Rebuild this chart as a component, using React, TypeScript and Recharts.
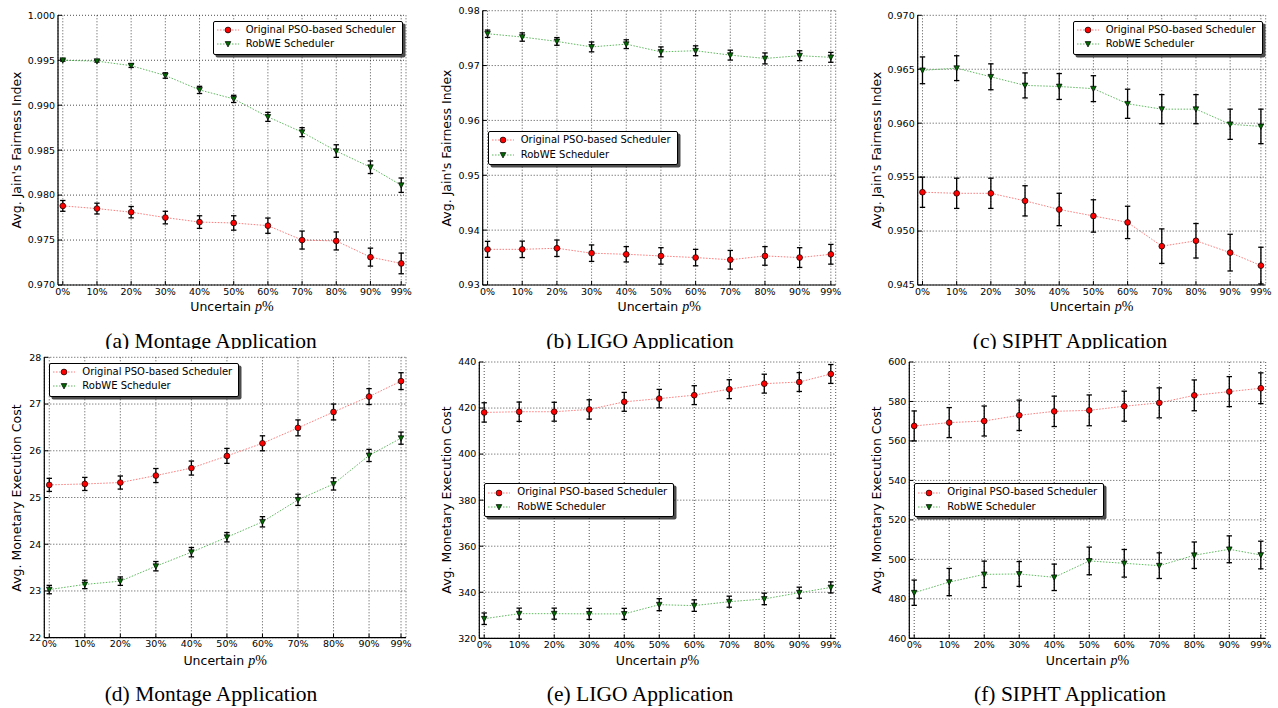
import React from 'react';
import { LineChart, Line, XAxis, YAxis, CartesianGrid, ErrorBar, Legend } from 'recharts';

// ---------- data ----------
const uncertainty = [0, 10, 20, 30, 40, 50, 60, 70, 80, 90, 99];
const seriesNames = ['Original PSO-based Scheduler', 'RobWE Scheduler'];

// (a) Montage – fairness
const montageFairPso = [0.9788, 0.9785, 0.9781, 0.9775, 0.977, 0.9769, 0.9766, 0.975, 0.9749, 0.9731, 0.9724];
const montageFairPsoErr = [0.0006, 0.0006, 0.00063, 0.0007, 0.0007, 0.0008, 0.00085, 0.001, 0.001, 0.001, 0.00115];
const montageFairRob = [0.995, 0.9949, 0.9944, 0.9933, 0.9917, 0.9907, 0.9887, 0.987, 0.9849, 0.9831, 0.9811];
const montageFairRobErr = [0.0001, 0.0001, 0.0002, 0.0003, 0.0004, 0.0004, 0.0005, 0.0005, 0.0007, 0.0007, 0.0008];

// (b) LIGO – fairness
const ligoFairPso = [0.9365, 0.9365, 0.9367, 0.9358, 0.9356, 0.9353, 0.935, 0.9346, 0.9353, 0.935, 0.9356];
const ligoFairPsoErr = [0.00146, 0.0015, 0.0015, 0.0015, 0.0014, 0.0015, 0.0015, 0.0017, 0.0017, 0.0018, 0.0018];
const ligoFairRob = [0.9758, 0.9752, 0.9744, 0.9734, 0.9739, 0.9725, 0.9727, 0.9719, 0.9713, 0.9718, 0.9715];
const ligoFairRobErr = [0.00067, 0.00076, 0.0007, 0.0009, 0.0008, 0.0009, 0.0009, 0.0009, 0.001, 0.0009, 0.0009];

// (c) SIPHT – fairness
const siphtFairPso = [0.9536, 0.9535, 0.9535, 0.9528, 0.952, 0.9514, 0.9508, 0.9486, 0.9491, 0.948, 0.9468];
const siphtFairPsoErr = [0.0014, 0.0014, 0.0014, 0.0014, 0.0015, 0.0015, 0.0015, 0.0016, 0.0016, 0.0017, 0.0017];
const siphtFairRob = [0.9649, 0.9651, 0.9643, 0.9635, 0.9634, 0.9632, 0.9618, 0.9613, 0.9613, 0.9599, 0.9597];
const siphtFairRobErr = [0.00124, 0.00115, 0.0012, 0.00116, 0.0012, 0.0012, 0.00135, 0.00135, 0.00135, 0.0014, 0.0016];

// (d) Montage – cost
const montageCostPso = [25.27, 25.29, 25.32, 25.47, 25.63, 25.89, 26.16, 26.49, 26.83, 27.16, 27.49];
const montageCostPsoErr = [0.14, 0.14, 0.14, 0.15, 0.15, 0.16, 0.16, 0.17, 0.17, 0.17, 0.18];
const montageCostRob = [23.03, 23.14, 23.21, 23.53, 23.83, 24.15, 24.48, 24.95, 25.29, 25.9, 26.27];
const montageCostRobErr = [0.09, 0.09, 0.09, 0.1, 0.1, 0.1, 0.11, 0.12, 0.13, 0.13, 0.13];

// (e) LIGO – cost
const ligoCostPso = [418.1, 418.4, 418.4, 419.4, 422.7, 424.1, 425.6, 428.2, 430.6, 431.3, 434.8];
const ligoCostPsoErr = [4.2, 4.2, 4.1, 4.2, 4.1, 4.0, 4.1, 4.1, 4.1, 4.1, 4.1];
const ligoCostRob = [328.5, 330.7, 330.7, 330.6, 330.6, 334.6, 334.2, 335.9, 337.1, 339.8, 342.1];
const ligoCostRobErr = [2.5, 2.4, 2.4, 2.4, 2.4, 2.6, 2.5, 2.4, 2.5, 2.4, 2.4];

// (f) SIPHT – cost
const siphtCostPso = [567.6, 569.3, 570.1, 573.0, 575.0, 575.5, 577.6, 579.3, 583.1, 585.0, 586.7];
const siphtCostPsoErr = [7.6, 7.6, 7.6, 7.7, 7.7, 7.8, 7.6, 7.6, 7.8, 7.6, 7.8];
const siphtCostRob = [483.1, 488.5, 492.4, 492.6, 490.9, 499.2, 498.0, 496.8, 502.1, 505.1, 502.2];
const siphtCostRobErr = [6.4, 6.9, 6.7, 6.3, 6.7, 7.0, 7.0, 6.5, 6.7, 6.8, 7.0];

// tick values
const xTicks = [0, 10, 20, 30, 40, 50, 60, 70, 80, 90, 99];
const yTicksA = [0.97, 0.975, 0.98, 0.985, 0.99, 0.995, 1.0];
const yTicksB = [0.93, 0.94, 0.95, 0.96, 0.97, 0.98];
const yTicksC = [0.945, 0.95, 0.955, 0.96, 0.965, 0.97];
const yTicksD = [22, 23, 24, 25, 26, 27, 28];
const yTicksE = [320, 340, 360, 380, 400, 420, 440];
const yTicksF = [460, 480, 500, 520, 540, 560, 580, 600];

const fairLabel = "Avg. Jain's Fairness Index";
const costLabel = 'Avg. Monetary Execution Cost';

// ---------- layout ----------
const COL_X = [0, 426, 852];
const COL_W = 426;
const ROW_Y = [0, 349];
const ROW_H = [320, 331];
const X_DOMAIN: [number, number] = [-1.4, 100.4];
const TICK_FONT = { fontFamily: 'DejaVu Sans', fontSize: 9.5, fill: '#000' };

type Panel = {
  col: number; row: number;
  plot: [number, number, number, number];
  yTicks: number[]; digits: number;
  pso: number[]; psoErr: number[]; rob: number[]; robErr: number[];
  legend: [number, number];
  yLabel: string; caption: string;
};

const panels: Panel[] = [
  { col: 0, row: 0, plot: [58, 15.3, 406, 285], yTicks: yTicksA, digits: 3, pso: montageFairPso, psoErr: montageFairPsoErr, rob: montageFairRob, robErr: montageFairRobErr, legend: [212.7, 20.7], yLabel: fairLabel, caption: '(a) Montage Application' },
  { col: 1, row: 0, plot: [482.7, 10.7, 835.7, 285], yTicks: yTicksB, digits: 2, pso: ligoFairPso, psoErr: ligoFairPsoErr, rob: ligoFairRob, robErr: ligoFairRobErr, legend: [487.7, 131], yLabel: fairLabel, caption: '(b) LIGO Application' },
  { col: 2, row: 0, plot: [917.7, 15.3, 1265.7, 285], yTicks: yTicksC, digits: 3, pso: siphtFairPso, psoErr: siphtFairPsoErr, rob: siphtFairRob, robErr: siphtFairRobErr, legend: [1072.7, 20.7], yLabel: fairLabel, caption: '(c) SIPHT Application' },
  { col: 0, row: 1, plot: [44.3, 357.3, 406, 637.7], yTicks: yTicksD, digits: 0, pso: montageCostPso, psoErr: montageCostPsoErr, rob: montageCostRob, robErr: montageCostRobErr, legend: [49.3, 362.7], yLabel: costLabel, caption: '(d) Montage Application' },
  { col: 1, row: 1, plot: [479.3, 362, 835.7, 638.3], yTicks: yTicksE, digits: 0, pso: ligoCostPso, psoErr: ligoCostPsoErr, rob: ligoCostRob, robErr: ligoCostRobErr, legend: [484.3, 483.3], yLabel: costLabel, caption: '(e) LIGO Application' },
  { col: 2, row: 1, plot: [909.3, 362, 1265.7, 638.3], yTicks: yTicksF, digits: 0, pso: siphtCostPso, psoErr: siphtCostPsoErr, rob: siphtCostRob, robErr: siphtCostRobErr, legend: [914.3, 483.3], yLabel: costLabel, caption: '(f) SIPHT Application' },
];

const CAPTION_CX = [211, 640, 1070];
const CAPTION_TOP = [331, 684];
const XLABEL_CY = [306.7, 660];
const YLABEL_CX = [17, 446.7, 876.7];

const RED = '#ff0000';
const GREEN = '#006b00';
const RED_LINE = '#ff7a7a';
const GREEN_LINE = '#5fb85f';

const RedDot = (p: any) => {
  if (p.cx == null || p.cy == null) return <g />;
  return <circle cx={p.cx} cy={p.cy} r={2.9} fill={RED} stroke="#000" strokeWidth={0.7} />;
};
const GreenTri = (p: any) => {
  if (p.cx == null || p.cy == null) return <g />;
  const s = 2.8;
  return (
    <path
      d={`M${p.cx - s},${p.cy - s * 0.85} L${p.cx + s},${p.cy - s * 0.85} L${p.cx},${p.cy + s * 1.05} Z`}
      fill={GREEN}
      stroke="#000"
      strokeWidth={0.7}
    />
  );
};

const LegendBox = () => (
  <div
    style={{
      background: '#fff',
      border: '1px solid #000',
      borderRadius: 2,
      boxShadow: '2.5px 2.5px 0 rgba(0,0,0,0.7)',
      padding: '1px 6px 2px 2px',
      fontFamily: 'DejaVu Sans',
      fontSize: 10,
      color: '#000',
      whiteSpace: 'nowrap',
      lineHeight: '14.5px',
    }}
  >
    {seriesNames.map((name, i) => (
      <div key={name} style={{ display: 'flex', alignItems: 'center', height: 14.5 }}>
        <svg width={30} height={10} style={{ display: 'block' }}>
          <line x1={1} y1={5} x2={23} y2={5} stroke={i === 0 ? RED_LINE : GREEN_LINE} strokeWidth={1} strokeDasharray="1.5 1.5" />
          {i === 0 ? <RedDot cx={12} cy={5} /> : <GreenTri cx={12} cy={5} />}
        </svg>
        <span>{name}</span>
      </div>
    ))}
  </div>
);

const noTick = () => <g />;

function PanelChart({ p }: { p: Panel }) {
  const left = COL_X[p.col];
  const top = ROW_Y[p.row];
  const h = ROW_H[p.row];
  const [pl, pt, pr, pb] = p.plot;
  const data = uncertainty.map((u, i) => ({
    u,
    pso: p.pso[i],
    psoErr: p.psoErr[i],
    rob: p.rob[i],
    robErr: p.robErr[i],
  }));
  const yDomain: [number, number] = [p.yTicks[0], p.yTicks[p.yTicks.length - 1]];
  const fmtY = (v: number) => v.toFixed(p.digits);
  return (
    <div style={{ position: 'absolute', left, top, width: COL_W, height: h, background: '#fff' }}>
      <LineChart
        width={COL_W}
        height={h}
        data={data}
        margin={{ top: pt - top, right: left + COL_W - pr, left: 0, bottom: 0 }}
      >
        <CartesianGrid stroke="#000" strokeWidth={0.7} strokeDasharray="1 2" />
        <XAxis
          dataKey="u"
          type="number"
          domain={X_DOMAIN}
          allowDataOverflow
          ticks={xTicks}
          tickFormatter={(v: number) => `${v}%`}
          height={top + h - pb}
          tick={TICK_FONT}
          tickSize={-4}
          tickMargin={7}
          tickLine={{ stroke: '#000' }}
          axisLine={{ stroke: '#000', strokeWidth: 1.2 }}
          interval={0}
        />
        <XAxis
          xAxisId="top"
          orientation="top"
          dataKey="u"
          type="number"
          domain={X_DOMAIN}
          allowDataOverflow
          ticks={xTicks}
          height={0}
          tick={noTick}
          tickSize={-4}
          tickLine={{ stroke: '#000' }}
          axisLine={{ stroke: '#000', strokeWidth: 1.2 }}
          interval={0}
        />
        <YAxis
          type="number"
          domain={yDomain}
          allowDataOverflow
          ticks={p.yTicks}
          tickFormatter={fmtY}
          width={pl - left}
          tick={TICK_FONT}
          tickSize={-4}
          tickMargin={7}
          tickLine={{ stroke: '#000' }}
          axisLine={{ stroke: '#000', strokeWidth: 1.2 }}
          interval={0}
        />
        <YAxis
          yAxisId="right"
          orientation="right"
          type="number"
          domain={yDomain}
          allowDataOverflow
          ticks={p.yTicks}
          width={0}
          tick={noTick}
          tickSize={-4}
          tickLine={{ stroke: '#000' }}
          axisLine={{ stroke: '#000', strokeWidth: 1.2 }}
          interval={0}
        />
        <Legend
          layout="vertical"
          align="center"
          verticalAlign="middle"
          wrapperStyle={{ left: p.legend[0] - left, top: p.legend[1] - top, width: 'auto', height: 'auto' }}
          content={() => <LegendBox />}
        />
        <Line
          dataKey="pso"
          name={seriesNames[0]}
          type="linear"
          stroke={RED_LINE}
          strokeWidth={1}
          strokeDasharray="1.5 1.5"
          dot={RedDot}
          activeDot={false}
          isAnimationActive={false}
        >
          <ErrorBar dataKey="psoErr" width={2.7} stroke="#000" strokeWidth={1.3} direction="y" isAnimationActive={false} />
        </Line>
        <Line
          dataKey="rob"
          name={seriesNames[1]}
          type="linear"
          stroke={GREEN_LINE}
          strokeWidth={1}
          strokeDasharray="1.5 1.5"
          dot={GreenTri}
          activeDot={false}
          isAnimationActive={false}
        >
          <ErrorBar dataKey="robErr" width={2.7} stroke="#000" strokeWidth={1.3} direction="y" isAnimationActive={false} />
        </Line>
      </LineChart>
    </div>
  );
}

function Labels({ p }: { p: Panel }) {
  const [pl, pt, pr, pb] = p.plot;
  const cx = (pl + pr) / 2;
  const cy = (pt + pb) / 2;
  return (
    <>
      <div
        style={{
          position: 'absolute',
          left: cx - 150,
          top: XLABEL_CY[p.row] - 6.5,
          width: 300,
          textAlign: 'center',
          fontFamily: 'DejaVu Sans',
          fontSize: 12.5,
          lineHeight: '13px',
          color: '#000',
          whiteSpace: 'nowrap',
        }}
      >
        Uncertain{' '}
        <span style={{ fontFamily: 'Liberation Serif', fontStyle: 'italic', fontSize: 14 }}>p</span>
        <span style={{ fontFamily: 'Liberation Serif', fontSize: 14 }}>%</span>
      </div>
      <div
        style={{
          position: 'absolute',
          left: YLABEL_CX[p.col] - 150,
          top: cy - 7,
          width: 300,
          height: 14,
          textAlign: 'center',
          fontFamily: 'DejaVu Sans',
          fontSize: 12.5,
          lineHeight: '14px',
          color: '#000',
          transform: 'rotate(-90deg)',
          whiteSpace: 'nowrap',
        }}
      >
        {p.yLabel}
      </div>
    </>
  );
}

function Caption({ p }: { p: Panel }) {
  return (
    <div
      style={{
        position: 'absolute',
        left: CAPTION_CX[p.col] - 200,
        top: CAPTION_TOP[p.row],
        width: 400,
        textAlign: 'center',
        fontFamily: 'Liberation Serif',
        fontSize: 21.5,
        lineHeight: '21.5px',
        color: '#000',
        whiteSpace: 'nowrap',
      }}
    >
      {p.caption}
    </div>
  );
}

export default function App() {
  return (
    <div style={{ position: 'absolute', left: 0, top: 0, width: 1278, height: 708, background: '#fff', overflow: 'hidden' }}>
      {panels.filter((p) => p.row === 0).map((p) => (
        <React.Fragment key={p.caption}>
          <PanelChart p={p} />
          <Labels p={p} />
          <Caption p={p} />
        </React.Fragment>
      ))}
      {panels.filter((p) => p.row === 1).map((p) => (
        <React.Fragment key={p.caption}>
          <PanelChart p={p} />
          <Labels p={p} />
          <Caption p={p} />
        </React.Fragment>
      ))}
    </div>
  );
}
